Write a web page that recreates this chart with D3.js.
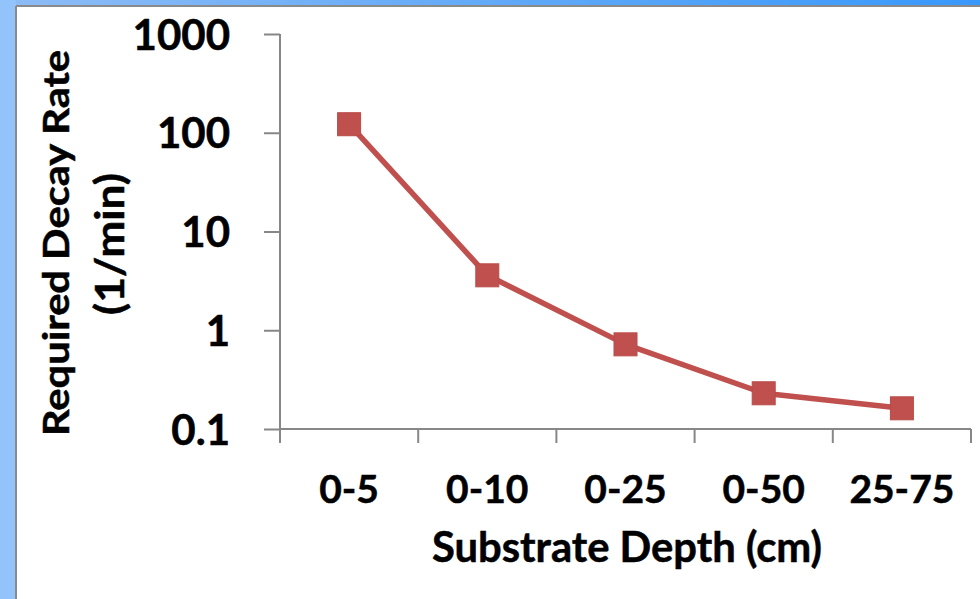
<!DOCTYPE html>
<html>
<head>
<meta charset="utf-8">
<script src="https://cdn.jsdelivr.net/npm/d3@7"></script>
<style>
  html, body { margin: 0; padding: 0; background: #fff; }
  svg { display: block; }
  text { font-family: Lato, "Open Sans", sans-serif; font-weight: bold; fill: #000; stroke: #000; stroke-width: 0.5px; }
</style>
</head>
<body>
<svg id="chart" width="980" height="599"></svg>
<script>
const categories = ["0-5", "0-10", "0-25", "0-50", "25-75"];
const decayRate = [122, 3.6, 0.72, 0.23, 0.162];
const yTicks = [0.1, 1, 10, 100, 1000];
const yTickLabels = ["0.1", "1", "10", "100", "1000"];
const xTitle = "Substrate Depth (cm)";
const yTitleLines = ["Required Decay Rate", "(1/min)"];

const W = 980, H = 599;
const svg = d3.select("#chart");

// frame: blue bands with gray border
const defs = svg.append("defs");
const g1 = defs.append("linearGradient").attr("id", "topband").attr("x1", 0).attr("x2", 1).attr("y1", 0).attr("y2", 0);
g1.append("stop").attr("offset", "0").attr("stop-color", "#8dbcf6");
g1.append("stop").attr("offset", "1").attr("stop-color", "#3898fa");
svg.append("rect").attr("x", 0).attr("y", 0).attr("width", W).attr("height", H).attr("fill", "#fff");
svg.append("rect").attr("x", 0).attr("y", 0).attr("width", W).attr("height", 6).attr("fill", "url(#topband)");
svg.append("rect").attr("x", 0).attr("y", 0).attr("width", 16).attr("height", H).attr("fill", "#92c3fb");
svg.append("line").attr("x1", 16).attr("x2", W).attr("y1", 6).attr("y2", 6).attr("stroke", "#8a8a8a").attr("stroke-width", 2);
svg.append("line").attr("x1", 16).attr("x2", 16).attr("y1", 6).attr("y2", H).attr("stroke", "#8a8a8a").attr("stroke-width", 2);

const plot = { left: 280, right: 971, top: 34, bottom: 429 };
const x = d3.scaleBand().domain(categories).range([plot.left, plot.right]).padding(0);
const y = d3.scaleLog().domain([0.1, 1000]).range([plot.bottom, plot.top]);

const axisColor = "#878787";

// Y axis
const yAxis = d3.axisLeft(y).tickValues(yTicks).tickSize(16).tickPadding(34)
  .tickFormat((d, i) => yTickLabels[i]);
const gy = svg.append("g").attr("transform", `translate(${plot.left},0)`).call(yAxis);
gy.select(".domain").remove();
gy.selectAll(".tick line").attr("stroke", axisColor).attr("stroke-width", 2);
gy.selectAll(".tick text").style("font-size", "42px").attr("dy", "0.36em").attr("font-family", null);
svg.append("line").attr("x1", plot.left).attr("x2", plot.left)
  .attr("y1", plot.top).attr("y2", plot.bottom)
  .attr("stroke", axisColor).attr("stroke-width", 2);

// X axis
svg.append("line").attr("x1", plot.left).attr("x2", plot.right)
  .attr("y1", plot.bottom).attr("y2", plot.bottom)
  .attr("stroke", axisColor).attr("stroke-width", 2);
const edges = categories.map(c => x(c)).concat([x(categories[categories.length - 1]) + x.bandwidth()]);
svg.selectAll(".xtick").data(edges).enter().append("line")
  .attr("class", "xtick")
  .attr("x1", d => d).attr("x2", d => d)
  .attr("y1", plot.bottom).attr("y2", plot.bottom + 14)
  .attr("stroke", axisColor).attr("stroke-width", 2);
svg.selectAll(".xlabel").data(categories).enter().append("text")
  .attr("class", "xlabel")
  .attr("x", d => x(d) + x.bandwidth() / 2)
  .attr("y", 503)
  .attr("text-anchor", "middle")
  .style("font-size", "39px")
  .text(d => d);

// Titles
svg.append("text").attr("x", 627).attr("y", 562).attr("text-anchor", "middle")
  .style("font-size", "42px")
  .attr("textLength", 390).attr("lengthAdjust", "spacingAndGlyphs")
  .text(xTitle);
svg.append("text").attr("transform", "translate(69,243) rotate(-90)")
  .attr("text-anchor", "middle").style("font-size", "36px")
  .attr("textLength", 386).attr("lengthAdjust", "spacingAndGlyphs")
  .text(yTitleLines[0]);
svg.append("text").attr("transform", "translate(124,244) rotate(-90)")
  .attr("text-anchor", "middle").style("font-size", "40px")
  .attr("textLength", 142).attr("lengthAdjust", "spacingAndGlyphs")
  .text(yTitleLines[1]);

// Series
const color = "#C0504D";
const pts = categories.map((c, i) => ({ c, v: decayRate[i] }));
const line = d3.line().x(d => x(d.c) + x.bandwidth() / 2).y(d => y(d.v));
svg.append("path").datum(pts).attr("d", line)
  .attr("fill", "none").attr("stroke", color).attr("stroke-width", 5.5).attr("stroke-linejoin", "round");
const ms = 23;
svg.selectAll(".marker").data(pts).enter().append("rect")
  .attr("class", "marker")
  .attr("x", d => x(d.c) + x.bandwidth() / 2 - ms / 2)
  .attr("y", d => y(d.v) - ms / 2)
  .attr("width", ms).attr("height", ms)
  .attr("fill", color).attr("stroke", "#b84b48").attr("stroke-width", 1);
</script>
</body>
</html>
